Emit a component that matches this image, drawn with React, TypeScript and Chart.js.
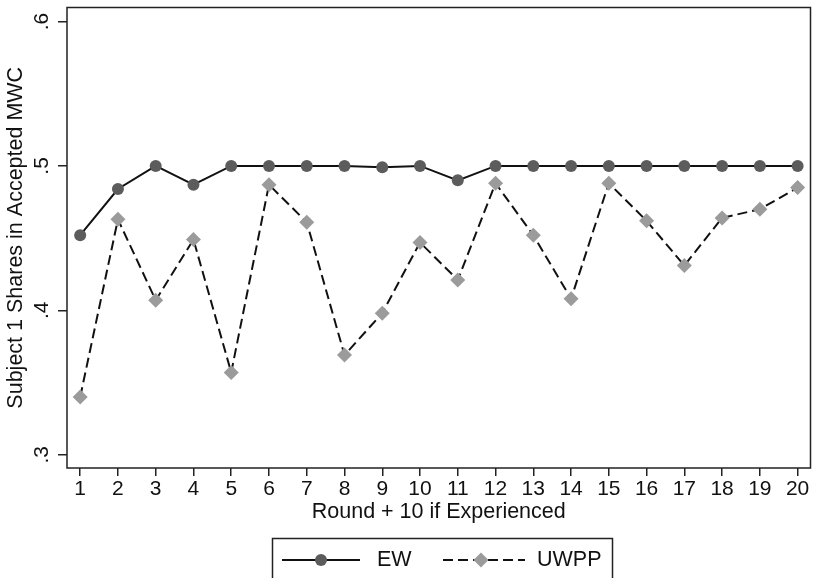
import React, { useEffect, useRef } from "react";
import { Chart, registerables } from "chart.js";

Chart.register(...registerables);

const rounds = [1, 2, 3, 4, 5, 6, 7, 8, 9, 10, 11, 12, 13, 14, 15, 16, 17, 18, 19, 20];
const ewValues = [0.452, 0.484, 0.5, 0.487, 0.5, 0.5, 0.5, 0.5, 0.499, 0.5, 0.49, 0.5, 0.5, 0.5, 0.5, 0.5, 0.5, 0.5, 0.5, 0.5];
const uwppValues = [0.34, 0.463, 0.407, 0.449, 0.357, 0.487, 0.461, 0.369, 0.398, 0.447, 0.421, 0.488, 0.452, 0.408, 0.488, 0.462, 0.431, 0.464, 0.47, 0.485];
const seriesNames = ["EW", "UWPP"];
const xTicks = rounds;
const yTicks = [0.3, 0.4, 0.5, 0.6];
const yTickLabels = [".3", ".4", ".5", ".6"];
const xTitle = "Round + 10 if Experienced";
const yTitle = "Subject 1 Shares in Accepted MWC";

const FONT = '"Liberation Sans", Arial, Helvetica, sans-serif';
const EW_MARKER = "#5c5c5c";
const UWPP_MARKER = "#9b9b9b";
const LINE = "#111111";
const DASH = [10, 5];

const framePlugin = {
  id: "stataFrame",
  afterDraw(chart: any) {
    const { ctx, chartArea: a, scales } = chart;
    ctx.save();
    // plot frame
    ctx.strokeStyle = "#222";
    ctx.lineWidth = 1.5;
    ctx.strokeRect(a.left, a.top, a.right - a.left, a.bottom - a.top);

    // rotated y tick labels
    const ys = scales.y;
    ctx.fillStyle = "#111";
    ctx.font = `21px ${FONT}`;
    ctx.textAlign = "center";
    ctx.textBaseline = "middle";
    yTicks.forEach((v, i) => {
      const py = ys.getPixelForValue(v);
      ctx.save();
      ctx.translate(42.5, py);
      ctx.rotate(-Math.PI / 2);
      ctx.fillText(yTickLabels[i], 0, 0);
      ctx.restore();
    });

    // legend box
    ctx.strokeStyle = "#222";
    ctx.lineWidth = 1.5;
    ctx.strokeRect(272.5, 538.5, 340, 50);
    const ly = 560;
    // EW
    ctx.strokeStyle = LINE;
    ctx.lineWidth = 2;
    ctx.setLineDash([]);
    ctx.beginPath();
    ctx.moveTo(282, ly);
    ctx.lineTo(360, ly);
    ctx.stroke();
    ctx.fillStyle = EW_MARKER;
    ctx.beginPath();
    ctx.arc(321, ly, 6, 0, Math.PI * 2);
    ctx.fill();
    // UWPP
    ctx.setLineDash(DASH);
    ctx.beginPath();
    ctx.moveTo(443, ly);
    ctx.lineTo(525, ly);
    ctx.stroke();
    ctx.setLineDash([]);
    ctx.fillStyle = UWPP_MARKER;
    ctx.beginPath();
    ctx.moveTo(481, ly - 7.5);
    ctx.lineTo(488.5, ly);
    ctx.lineTo(481, ly + 7.5);
    ctx.lineTo(473.5, ly);
    ctx.closePath();
    ctx.fill();
    // legend text
    ctx.fillStyle = "#111";
    ctx.font = `21.5px ${FONT}`;
    ctx.textAlign = "left";
    ctx.textBaseline = "middle";
    ctx.fillText(seriesNames[0], 377, ly);
    ctx.fillText(seriesNames[1], 537, ly);
    ctx.restore();
  },
};

export default function App() {
  const ref = useRef<HTMLCanvasElement | null>(null);

  useEffect(() => {
    document.body.style.margin = "0";
    const canvas = ref.current;
    if (!canvas) return;
    const chart = new Chart(canvas, {
      type: "line",
      data: {
        datasets: [
          {
            label: seriesNames[0],
            data: rounds.map((r, i) => ({ x: r, y: ewValues[i] })),
            borderColor: LINE,
            borderWidth: 2,
            pointStyle: "circle",
            pointRadius: 6,
            pointBackgroundColor: EW_MARKER,
            pointBorderWidth: 0,
            pointBorderColor: EW_MARKER,
            tension: 0,
          },
          {
            label: seriesNames[1],
            data: rounds.map((r, i) => ({ x: r, y: uwppValues[i] })),
            borderColor: LINE,
            borderWidth: 2,
            borderDash: DASH,
            pointStyle: "rectRot",
            pointRadius: 7.5,
            pointBackgroundColor: UWPP_MARKER,
            pointBorderWidth: 0,
            pointBorderColor: UWPP_MARKER,
            tension: 0,
          },
        ],
      },
      options: {
        responsive: false,
        animation: false,
        devicePixelRatio: 1,
        layout: { padding: { top: 6, right: 1, left: 0, bottom: 0 } },
        plugins: {
          legend: { display: false },
          tooltip: { enabled: false },
        },
        scales: {
          x: {
            type: "linear",
            min: 0.651,
            max: 20.341,
            afterBuildTicks: (s: any) => {
              s.ticks = xTicks.map((v) => ({ value: v }));
            },
            afterFit: (s: any) => {
              s.height = 110;
            },
            grid: {
              drawOnChartArea: false,
              drawTicks: true,
              tickLength: 8,
              color: "#222",
              lineWidth: 1.5,
            },
            border: { display: false },
            ticks: {
              color: "#111",
              font: { family: FONT, size: 21 },
              padding: 1,
              maxRotation: 0,
              autoSkip: false,
              callback: (v: any) => String(v),
            },
            title: {
              display: true,
              text: xTitle,
              color: "#111",
              font: { family: FONT, size: 21.5 },
              padding: { top: 0, bottom: 53 },
            },
          },
          y: {
            type: "linear",
            min: 0.2908,
            max: 0.6097,
            afterBuildTicks: (s: any) => {
              s.ticks = yTicks.map((v) => ({ value: v }));
            },
            afterFit: (s: any) => {
              s.width = 67;
            },
            grid: {
              drawOnChartArea: false,
              drawTicks: true,
              tickLength: 9,
              color: "#222",
              lineWidth: 1.5,
            },
            border: { display: false },
            ticks: { display: false },
            title: {
              display: true,
              text: yTitle,
              color: "#111",
              font: { family: FONT, size: 21.5 },
              padding: { top: 3, bottom: 0 },
            },
          },
        },
      },
      plugins: [framePlugin],
    });
    return () => chart.destroy();
  }, []);

  return (
    <div style={{ width: 818, height: 578, background: "#fff" }}>
      <canvas ref={ref} width={818} height={578} style={{ display: "block" }} />
    </div>
  );
}
